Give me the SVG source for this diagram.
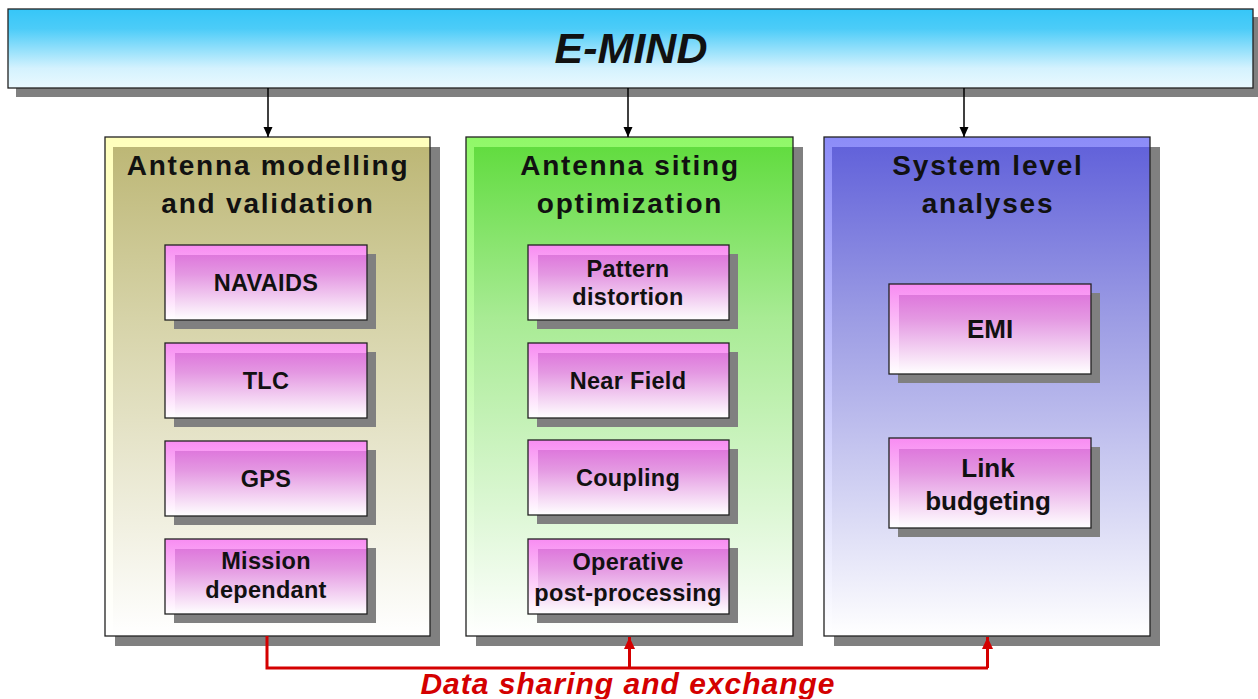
<svg xmlns="http://www.w3.org/2000/svg" width="1258" height="699" viewBox="0 0 1258 699">
<defs>
<linearGradient id="gTop" x1="0" y1="0" x2="0" y2="1">
<stop offset="0" stop-color="#36C6F8"/><stop offset="0.25" stop-color="#4CCCF8"/><stop offset="0.75" stop-color="#D4F2FE"/><stop offset="1" stop-color="#EAF9FF"/>
</linearGradient>
<linearGradient id="gC1" x1="0" y1="0" x2="0" y2="1">
<stop offset="0" stop-color="#BDB776"/><stop offset="0.35" stop-color="#D6D3A8"/><stop offset="1" stop-color="#FFFFFF"/>
</linearGradient>
<linearGradient id="gC1o" x1="0" y1="0" x2="0" y2="1">
<stop offset="0" stop-color="#FFFFBC"/><stop offset="1" stop-color="#FFFFFF"/>
</linearGradient>
<linearGradient id="gC2" x1="0" y1="0" x2="0" y2="1">
<stop offset="0" stop-color="#62DC40"/><stop offset="0.35" stop-color="#A8EB94"/><stop offset="1" stop-color="#FFFFFF"/>
</linearGradient>
<linearGradient id="gC2o" x1="0" y1="0" x2="0" y2="1">
<stop offset="0" stop-color="#90F868"/><stop offset="1" stop-color="#FFFFFF"/>
</linearGradient>
<linearGradient id="gC3" x1="0" y1="0" x2="0" y2="1">
<stop offset="0" stop-color="#6262DA"/><stop offset="0.35" stop-color="#9C9CE4"/><stop offset="1" stop-color="#FFFFFF"/>
</linearGradient>
<linearGradient id="gC3o" x1="0" y1="0" x2="0" y2="1">
<stop offset="0" stop-color="#8C8CF8"/><stop offset="1" stop-color="#FFFFFF"/>
</linearGradient>
<linearGradient id="gSub" x1="0" y1="0" x2="0" y2="1">
<stop offset="0" stop-color="#DE78DC"/><stop offset="0.3" stop-color="#E498E2"/><stop offset="1" stop-color="#FFFFFF"/>
</linearGradient>
<linearGradient id="gSubO" x1="0" y1="0" x2="0" y2="1">
<stop offset="0" stop-color="#F88CF2"/><stop offset="1" stop-color="#FFFFFF"/>
</linearGradient>
<marker id="aBlk" markerUnits="userSpaceOnUse" markerWidth="10" markerHeight="10" viewBox="0 0 10 10" refX="10" refY="5" orient="auto">
<path d="M0,0.5 L10,5 L0,9.5 Z" fill="#000"/>
</marker>
<marker id="aRed" markerUnits="userSpaceOnUse" markerWidth="12" markerHeight="12" viewBox="0 0 12 12" refX="12" refY="6" orient="auto">
<path d="M0,0.5 L12,6 L0,11.5 Z" fill="#D40000"/>
</marker>
</defs>
<style>
.sh{fill:#808080}
.frame{fill:none;stroke:#222;stroke-width:1.3}
.hdr{font-family:"Liberation Sans",Arial,sans-serif;font-weight:bold;font-size:28px;letter-spacing:1.8px;fill:#111;text-anchor:middle}
.sub{font-family:"Liberation Sans",Arial,sans-serif;font-weight:bold;font-size:23.5px;letter-spacing:0.3px;fill:#111;text-anchor:middle}
.sub3{font-family:"Liberation Sans",Arial,sans-serif;font-weight:bold;font-size:26px;fill:#111;text-anchor:middle}
.subTop{fill:url(#gSubO)}
.subIn{fill:url(#gSub)}
</style>

<g id="emind">
<rect x="16" y="17" width="1244" height="80" class="sh"/>
<rect x="8" y="9" width="1245" height="79" fill="url(#gTop)"/>
<rect x="8" y="9" width="1245" height="79" class="frame"/>
<text x="631" y="63" font-family="Liberation Sans,Arial,sans-serif" font-weight="bold" font-style="italic" font-size="43" fill="#111" text-anchor="middle">E-MIND</text>
</g>

<g id="col1">
<rect x="115" y="147" width="325" height="499" class="sh"/>
<rect x="105" y="137" width="325" height="499" fill="url(#gC1o)"/>
<rect x="113" y="147" width="317" height="489" fill="url(#gC1)"/>
<rect x="105" y="137" width="325" height="499" class="frame"/>
<text class="hdr" x="268" y="175">Antenna modelling</text>
<text class="hdr" x="268" y="213">and validation</text>
</g>
<g id="col2">
<rect x="476" y="147" width="327" height="499" class="sh"/>
<rect x="466" y="137" width="327" height="499" fill="url(#gC2o)"/>
<rect x="474" y="147" width="319" height="489" fill="url(#gC2)"/>
<rect x="466" y="137" width="327" height="499" class="frame"/>
<text class="hdr" x="630" y="175">Antenna siting</text>
<text class="hdr" x="630" y="213">optimization</text>
</g>
<g id="col3">
<rect x="834" y="147" width="326" height="499" class="sh"/>
<rect x="824" y="137" width="326" height="499" fill="url(#gC3o)"/>
<rect x="832" y="147" width="318" height="489" fill="url(#gC3)"/>
<rect x="824" y="137" width="326" height="499" class="frame"/>
<text class="hdr" x="988" y="175">System level</text>
<text class="hdr" x="988" y="213">analyses</text>
</g>

<g id="navaids">
<rect x="174" y="254" width="202" height="75" class="sh"/>
<rect x="165" y="245" width="202" height="75" class="subTop"/>
<rect x="175" y="255" width="192" height="65" class="subIn"/>
<rect x="165" y="245" width="202" height="75" class="frame"/>
<text class="sub" x="266" y="291">NAVAIDS</text>
</g>
<g id="tlc">
<rect x="174" y="352" width="202" height="75" class="sh"/>
<rect x="165" y="343" width="202" height="75" class="subTop"/>
<rect x="175" y="353" width="192" height="65" class="subIn"/>
<rect x="165" y="343" width="202" height="75" class="frame"/>
<text class="sub" x="266" y="389">TLC</text>
</g>
<g id="gps">
<rect x="174" y="450" width="202" height="75" class="sh"/>
<rect x="165" y="441" width="202" height="75" class="subTop"/>
<rect x="175" y="451" width="192" height="65" class="subIn"/>
<rect x="165" y="441" width="202" height="75" class="frame"/>
<text class="sub" x="266" y="487">GPS</text>
</g>
<g id="mission">
<rect x="174" y="548" width="202" height="75" class="sh"/>
<rect x="165" y="539" width="202" height="75" class="subTop"/>
<rect x="175" y="549" width="192" height="65" class="subIn"/>
<rect x="165" y="539" width="202" height="75" class="frame"/>
<text class="sub" x="266" y="569">Mission</text>
<text class="sub" x="266" y="598">dependant</text>
</g>

<g id="pattern">
<rect x="537" y="254" width="201" height="75" class="sh"/>
<rect x="528" y="245" width="201" height="75" class="subTop"/>
<rect x="538" y="255" width="191" height="65" class="subIn"/>
<rect x="528" y="245" width="201" height="75" class="frame"/>
<text class="sub" x="628" y="277">Pattern</text>
<text class="sub" x="628" y="305">distortion</text>
</g>
<g id="nearfield">
<rect x="537" y="352" width="201" height="75" class="sh"/>
<rect x="528" y="343" width="201" height="75" class="subTop"/>
<rect x="538" y="353" width="191" height="65" class="subIn"/>
<rect x="528" y="343" width="201" height="75" class="frame"/>
<text class="sub" x="628" y="389">Near Field</text>
</g>
<g id="coupling">
<rect x="537" y="449" width="201" height="75" class="sh"/>
<rect x="528" y="440" width="201" height="75" class="subTop"/>
<rect x="538" y="450" width="191" height="65" class="subIn"/>
<rect x="528" y="440" width="201" height="75" class="frame"/>
<text class="sub" x="628" y="486">Coupling</text>
</g>
<g id="operative">
<rect x="537" y="548" width="201" height="75" class="sh"/>
<rect x="528" y="539" width="201" height="75" class="subTop"/>
<rect x="538" y="549" width="191" height="65" class="subIn"/>
<rect x="528" y="539" width="201" height="75" class="frame"/>
<text class="sub" x="628" y="570">Operative</text>
<text class="sub" x="628" y="601">post-processing</text>
</g>

<g id="emi">
<rect x="898" y="293" width="202" height="90" class="sh"/>
<rect x="889" y="284" width="202" height="90" class="subTop"/>
<rect x="899" y="295" width="192" height="79" class="subIn"/>
<rect x="889" y="284" width="202" height="90" class="frame"/>
<text class="sub3" x="990" y="338">EMI</text>
</g>
<g id="link">
<rect x="898" y="447" width="202" height="90" class="sh"/>
<rect x="889" y="438" width="202" height="90" class="subTop"/>
<rect x="899" y="449" width="192" height="79" class="subIn"/>
<rect x="889" y="438" width="202" height="90" class="frame"/>
<text class="sub3" x="988" y="477">Link</text>
<text class="sub3" x="988" y="510">budgeting</text>
</g>

<g id="connectors">
<line x1="268" y1="88" x2="268" y2="137" stroke="#000" stroke-width="1.5" marker-end="url(#aBlk)"/>
<line x1="628" y1="88" x2="628" y2="137" stroke="#000" stroke-width="1.5" marker-end="url(#aBlk)"/>
<line x1="964" y1="88" x2="964" y2="137" stroke="#000" stroke-width="1.5" marker-end="url(#aBlk)"/>
<path d="M267,636 V668 H988" fill="none" stroke="#D40000" stroke-width="3"/>
<line x1="629.5" y1="668" x2="629.5" y2="637" stroke="#D40000" stroke-width="3" marker-end="url(#aRed)"/>
<line x1="987.5" y1="668" x2="987.5" y2="637" stroke="#D40000" stroke-width="3" marker-end="url(#aRed)"/>
<text x="628" y="694" font-family="Liberation Sans,Arial,sans-serif" font-weight="bold" font-style="italic" font-size="30" letter-spacing="1" fill="#D40000" text-anchor="middle">Data sharing and exchange</text>
</g>
</svg>
